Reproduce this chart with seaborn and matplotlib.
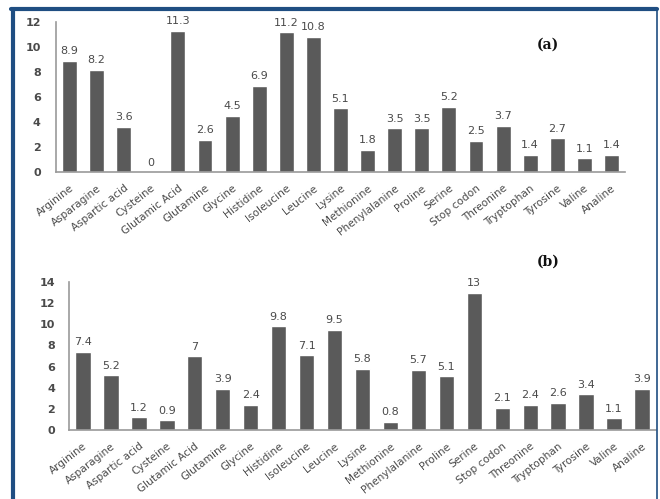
import matplotlib
matplotlib.use("Agg")
import matplotlib.pyplot as plt
from matplotlib.lines import Line2D
import seaborn as sns
import pandas as pd

categories = ["Arginine", "Asparagine", "Aspartic acid", "Cysteine", "Glutamic Acid",
              "Glutamine", "Glycine", "Histidine", "Isoleucine", "Leucine", "Lysine",
              "Methionine", "Phenylalanine", "Proline", "Serine", "Stop codon",
              "Threonine", "Tryptophan", "Tyrosine", "Valine", "Analine"]
values_a = [8.9, 8.2, 3.6, 0, 11.3, 2.6, 4.5, 6.9, 11.2, 10.8, 5.1,
            1.8, 3.5, 3.5, 5.2, 2.5, 3.7, 1.4, 2.7, 1.1, 1.4]
values_b = [7.4, 5.2, 1.2, 0.9, 7, 3.9, 2.4, 9.8, 7.1, 9.5, 5.8,
            0.8, 5.7, 5.1, 13, 2.1, 2.4, 2.6, 3.4, 1.1, 3.9]
yticks_a = [0, 2, 4, 6, 8, 10, 12]
yticks_b = [0, 2, 4, 6, 8, 10, 12, 14]

sns.set_style("white")
plt.rcParams["font.family"] = ["DejaVu Sans"]

BAR = "#5a5a5a"
AXIS = "#9a9a9a"
TXT = "#4a4a4a"
FRAME = "#1f4e82"

fig = plt.figure(figsize=(6.6, 4.99), dpi=100)


def fmt(v):
    return str(int(v)) if float(v).is_integer() else f"{v:g}"


def panel(rect, vals, yticks, tag, tag_xy, ypad):
    ax = fig.add_axes(rect)
    df = pd.DataFrame({"aa": categories, "pct": vals})
    sns.barplot(data=df, x="aa", y="pct", color=BAR, width=0.55,
                saturation=1, ax=ax)
    ax.set_xlim(-0.5, len(categories) - 0.5)
    ax.set_ylim(0, yticks[-1])
    ax.set_yticks(yticks)
    ax.set_yticklabels([str(t) for t in yticks], fontsize=8,
                       fontweight="bold", color=TXT)
    ax.set_xticks(range(len(categories)))
    ax.set_xticklabels(categories, rotation=38, ha="right",
                       rotation_mode="anchor", fontsize=7.6, color=TXT)
    ax.tick_params(axis="both", length=0)
    ax.tick_params(axis="y", pad=ypad)
    ax.tick_params(axis="x", pad=8)
    ax.set_xlabel("")
    ax.set_ylabel("")
    for s in ("top", "right"):
        ax.spines[s].set_visible(False)
    for s in ("left", "bottom"):
        ax.spines[s].set_color(AXIS)
        ax.spines[s].set_linewidth(1.2)
    off = yticks[-1] * 0.03
    for i, v in enumerate(vals):
        ax.text(i, v + off, fmt(v), ha="center", va="bottom",
                fontsize=8, color=TXT)
    fig.text(tag_xy[0], tag_xy[1], tag, fontsize=10, fontweight="bold",
             family="DejaVu Serif", color="#111111", ha="center", va="center")
    return ax


panel([56 / 660, 1 - 172 / 499, (625 - 56) / 660, (172 - 22) / 499],
      values_a, yticks_a, "(a)", (548 / 660, 1 - 45 / 499), 11)
panel([69 / 660, 1 - 430 / 499, (656 - 69) / 660, (430 - 282) / 499],
      values_b, yticks_b, "(b)", (548 / 660, 1 - 262 / 499), 10)

# blue page frame
fig.add_artist(Line2D([13 / 660, 13 / 660], [0, 1 - 9 / 499],
                      transform=fig.transFigure, color=FRAME, lw=3))
fig.add_artist(Line2D([11 / 660, 657 / 660], [1 - 9 / 499, 1 - 9 / 499],
                      transform=fig.transFigure, color=FRAME, lw=3))
fig.add_artist(Line2D([656.5 / 660, 656.5 / 660], [0, 1 - 9 / 499],
                      transform=fig.transFigure, color=FRAME, lw=1.2))

fig.savefig("out.png", dpi=100)
